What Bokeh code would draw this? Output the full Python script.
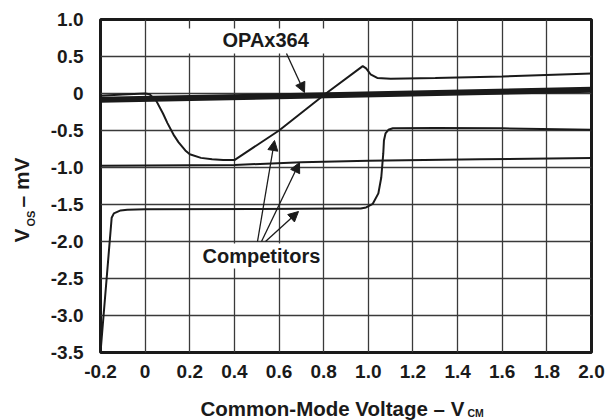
import math
from bokeh.plotting import figure
from bokeh.layouts import column, row
from bokeh.models import (FixedTicker, Label, Arrow, NormalHead, BoxAnnotation,
                          CustomJSTickFormatter)
from bokeh.core.properties import value
from bokeh.embed import file_html
from bokeh.resources import INLINE

# ---------------- data ----------------
x_ticks = [-0.2, 0.0, 0.2, 0.4, 0.6, 0.8, 1.0, 1.2, 1.4, 1.6, 1.8, 2.0]
x_tick_labels = ["-0.2", "0", "0.2", "0.4", "0.6", "0.8", "1.0", "1.2", "1.4", "1.6", "1.8", "2.0"]
y_ticks = [-3.5, -3.0, -2.5, -2.0, -1.5, -1.0, -0.5, 0.0, 0.5, 1.0]
y_tick_labels = ["-3.5", "-3.0", "-2.5", "-2.0", "-1.5", "-1.0", "-0.5", "0", "0.5", "1.0"]

opa_x = [-0.2, 2.0]
opa_y = [-0.085, 0.05]

compA_x = [-0.2, -0.1, 0.0, 0.02, 0.05, 0.08, 0.1, 0.13, 0.15, 0.18, 0.2, 0.25, 0.3, 0.35, 0.4,
           0.6, 0.81, 0.975, 0.99, 1.01, 1.04, 1.1, 1.3, 1.6, 2.0]
compA_y = [-0.03, -0.015, 0.0, -0.01, -0.1, -0.27, -0.4, -0.57, -0.66, -0.77, -0.82, -0.87, -0.89, -0.9, -0.9,
           -0.5, 0.0, 0.37, 0.34, 0.26, 0.21, 0.2, 0.21, 0.23, 0.27]

compB_x = [-0.2, 0.4, 0.7, 1.0, 1.5, 2.0]
compB_y = [-0.975, -0.965, -0.93, -0.91, -0.89, -0.87]

compC_x = [-0.2, -0.15, -0.14, -0.11, -0.08, 0.0, 0.5, 0.9, 0.966, 0.99, 1.02, 1.045, 1.058, 1.067,
           1.07, 1.077, 1.09, 1.11, 1.3, 1.6, 2.0]
compC_y = [-3.5, -1.68, -1.62, -1.58, -1.57, -1.565, -1.56, -1.555, -1.554, -1.54, -1.49, -1.35, -1.135, -0.81,
           -0.635, -0.54, -0.49, -0.47, -0.465, -0.47, -0.49]

x_title = "Common-Mode Voltage – V"
x_title_sub = "CM"
y_title_parts = ["V", "OS", "– mV"]

# ------------- layout helpers (page px -> data) -------------
FL, FR, FT, FB = 100, 591, 19, 352
YW = 40          # width of the y-title strip
TOPH = 395       # height of the top row
XH = 25          # height of the x-title strip


def px2x(px):
    return -0.2 + (px - FL) / (FR - FL) * 2.2


def px2y(py):
    return 1.0 - (py - FT) / (FB - FT) * 4.5


INK = "#1a1a1a"
FONT = "Liberation Sans"

p = figure(width=606 - YW, height=TOPH, x_range=(-0.2, 2.0), y_range=(-3.5, 1.0),
           output_backend="svg", toolbar_location=None,
           min_border_left=FL - YW, min_border_right=606 - FR, min_border_top=FT,
           min_border_bottom=TOPH - FB)
p.background_fill_color = "white"
p.border_fill_color = "white"
p.outline_line_color = INK
p.outline_line_width = 3

fmt_code = """
let best = 0;
for (let i = 0; i < vals.length; i++) {
  if (Math.abs(vals[i] - tick) < Math.abs(vals[best] - tick)) best = i;
}
return labels[best];
"""
p.xaxis.ticker = FixedTicker(ticks=x_ticks)
p.xaxis.formatter = CustomJSTickFormatter(args=dict(vals=x_ticks, labels=x_tick_labels), code=fmt_code)
p.yaxis.ticker = FixedTicker(ticks=y_ticks)
p.yaxis.formatter = CustomJSTickFormatter(args=dict(vals=y_ticks, labels=y_tick_labels), code=fmt_code)

for ax in (p.xaxis, p.yaxis):
    ax.axis_line_color = None
    ax.major_tick_line_color = None
    ax.minor_tick_line_color = None
    ax.major_tick_out = 0
    ax.major_tick_in = 0
    ax.major_label_text_font = FONT
    ax.major_label_text_font_style = "bold"
    ax.major_label_text_font_size = "19px"
    ax.major_label_text_color = INK
p.xaxis.major_label_standoff = 12
p.yaxis.major_label_standoff = 17

p.xgrid.ticker = FixedTicker(ticks=x_ticks)
p.ygrid.ticker = FixedTicker(ticks=y_ticks)
for g in (p.xgrid, p.ygrid):
    g.grid_line_color = "#3a3a3a"
    g.grid_line_width = 1.3

# curves
p.line(compC_x, compC_y, line_color=INK, line_width=2)
p.line(compB_x, compB_y, line_color=INK, line_width=2)
p.line(compA_x, compA_y, line_color=INK, line_width=2)
p.line(opa_x, opa_y, line_color=INK, line_width=6)

# label backgrounds
p.add_layout(BoxAnnotation(left=px2x(183), right=px2x(325), top=px2y(28), bottom=px2y(53),
                           fill_color="white", fill_alpha=1, line_color=None))
p.add_layout(BoxAnnotation(left=px2x(198), right=px2x(321), top=px2y(243), bottom=px2y(268),
                           fill_color="white", fill_alpha=1, line_color=None))

# annotations (text_baseline="middle": y is the vertical centre of the caps)
p.add_layout(Label(x=px2x(222), y=px2y(39.5), text="OPAx364", text_font=FONT, text_font_style="bold",
                   text_font_size="20px", text_color=INK, text_align="left", text_baseline="middle"))
p.add_layout(Label(x=px2x(202), y=px2y(255.5), text="Competitors", text_font=FONT, text_font_style="bold",
                   text_font_size="20px", text_color=INK, text_align="left", text_baseline="middle"))


def arrow(x0, y0, x1, y1):
    p.add_layout(Arrow(end=NormalHead(size=10, fill_color=INK, line_color=INK, line_width=1),
                       x_start=px2x(x0), y_start=px2y(y0), x_end=px2x(x1), y_end=px2y(y1),
                       line_color=INK, line_width=1.3))


arrow(286, 53, 304, 92)
arrow(257, 241, 274, 140)
arrow(261, 241, 299, 162)
arrow(265, 241, 298, 211)


def strip(w, h, yr):
    f = figure(width=w, height=h, x_range=(0, w), y_range=yr, output_backend="svg",
               toolbar_location=None, x_axis_type=None, y_axis_type=None, min_border=0,
               min_border_left=0, min_border_right=0, min_border_top=0, min_border_bottom=0)
    f.outline_line_color = None
    f.background_fill_color = "white"
    f.border_fill_color = "white"
    f.grid.visible = False
    return f


def txt(f, x, y, t, size, angle=0.0, align="left"):
    f.text(x=[x], y=[y], text=[t], text_font=value(FONT), text_font_style="bold",
           text_font_size=size, text_color=INK, text_align=align, text_baseline="middle",
           angle=angle)


# y title strip: its frame is aligned with the main frame (page y FT..FB); data y = TOPH - page y
yfig = strip(YW, TOPH, (TOPH - FB, TOPH - FT))
txt(yfig, 20.5, TOPH - 235, y_title_parts[0], "21px", math.pi / 2, "center")
txt(yfig, 30.5, TOPH - 218, y_title_parts[1], "11px", math.pi / 2, "center")
txt(yfig, 20.5, TOPH - 182, y_title_parts[2], "21px", math.pi / 2, "center")

# x title strip: page y TOPH..420 (data y = 420 - page y)
xfig = strip(606, XH, (0, XH))
txt(xfig, 200, 420 - 408, x_title, "20.5px")
txt(xfig, 467, 420 - 412.5, x_title_sub, "10.5px")

layout = column(row(yfig, p, spacing=0), xfig, spacing=0)

open("out.html", "w").write(file_html(layout, INLINE))
